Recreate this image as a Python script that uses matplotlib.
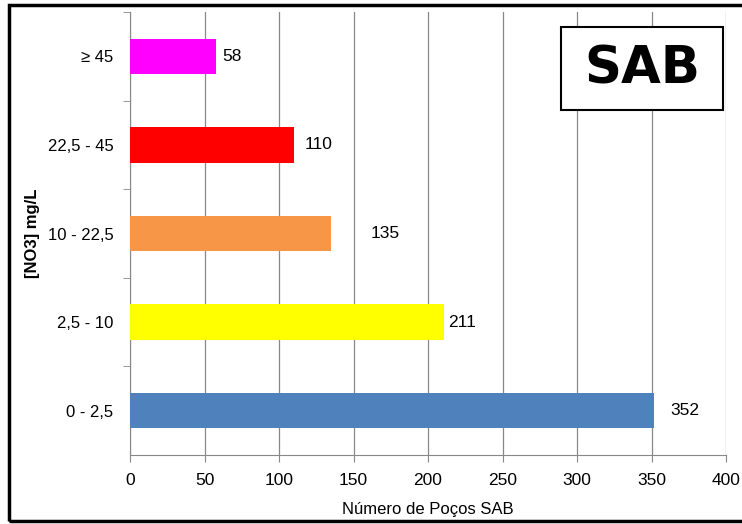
import matplotlib
matplotlib.use("Agg")
import matplotlib.pyplot as plt
from matplotlib.patches import Rectangle
from matplotlib import font_manager

categories = ["0 - 2,5", "2,5 - 10", "10 - 22,5", "22,5 - 45", "≥ 45"]
values = [352, 211, 135, 110, 58]
colors = ["#4F81BD", "#FFFF00", "#F79646", "#FF0000", "#FF00FF"]
label_offsets = [16, 4, 39, 11, 6]  # pixels after bar end
xticks = [0, 50, 100, 150, 200, 250, 300, 350, 400]

names = {f.name for f in font_manager.fontManager.ttflist}
narrow = "Liberation Sans Narrow" if "Liberation Sans Narrow" in names else "Liberation Sans"
plt.rcParams['font.family'] = [narrow, 'DejaVu Sans']

W, H = 742, 524
fig = plt.figure(figsize=(W / 100, H / 100), dpi=100)
ax = fig.add_axes([130 / W, 1 - 455 / H, 596 / W, 443 / H])

y = list(range(len(categories)))
ax.barh(y, values, height=0.4, color=colors, zorder=3)
ax.set_xlim(0, 400)
ax.set_ylim(-0.5, len(categories) - 0.5)
ax.set_xticks(xticks)
ax.set_xticklabels([str(t) for t in xticks], fontsize=12.5)
ax.set_yticks(y)
ax.set_yticklabels(categories, fontsize=12)
ax.set_yticks([i + 0.5 for i in range(len(categories) - 1)] + [len(categories) - 0.5], minor=True)
ax.tick_params(axis='y', which='major', length=0, pad=12)
ax.tick_params(axis='y', which='minor', length=5, color='#888888', direction='out')
ax.tick_params(axis='x', length=5, color='#888888', pad=8)
ax.grid(axis='x', color='#888888', linewidth=0.9, zorder=0)
for s in ['top', 'right']:
    ax.spines[s].set_visible(False)
for s in ['left', 'bottom']:
    ax.spines[s].set_color('#888888')

for yi, v, off in zip(y, values, label_offsets):
    ax.annotate(str(v), (v, yi), xytext=(off * 0.72, 0), textcoords='offset points',
                va='center', ha='left', fontsize=12.5)

ax.set_xlabel("Número de Poços SAB", fontsize=12, labelpad=10)
ax.set_ylabel("[NO3] mg/L", fontsize=12, fontweight='bold', labelpad=2)
ax.yaxis.set_label_coords(-0.151, 0.5)

# SAB box
fig.text(642 / W, 1 - 69 / H, "SAB", fontsize=37, fontweight='bold', family='DejaVu Sans',
         ha='center', va='center')
fig.patches.append(Rectangle((561 / W, 1 - 110 / H), 162 / W, 83 / H, transform=fig.transFigure,
                             fill=True, facecolor='white', edgecolor='black', linewidth=1.5, zorder=5))
fig.texts[-1].set_zorder(6)

# outer border
fig.patches.append(Rectangle((8.5 / W, 1 - 521 / H), 750 / W, 516 / H, transform=fig.transFigure,
                             fill=False, edgecolor='black', linewidth=2.5))

fig.savefig("out.png", dpi=100)
